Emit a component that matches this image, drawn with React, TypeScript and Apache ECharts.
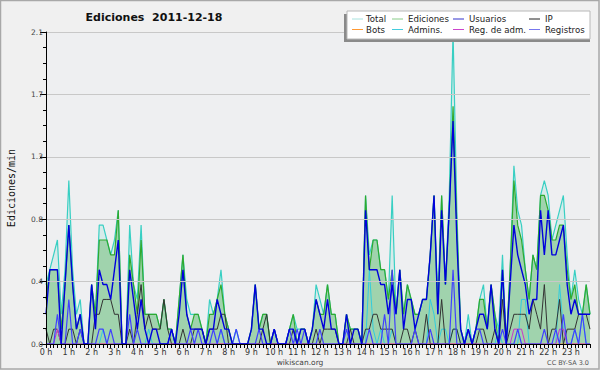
import React, { useEffect, useRef } from "react";
import * as echarts from "echarts";

// 10-minute slots, 0:00 .. 23:50
const categories: string[] = Array.from({ length: 144 }, (_, i) =>
  `${Math.floor(i / 6)}:${String((i % 6) * 10).padStart(2, "0")}`
);
const hourLabels: string[] = Array.from({ length: 24 }, (_, h) => `${h} h`);

const total = [
  0.4, 0.5, 0.6, 0.7, 0.2, 0.5, 1.1, 0.5, 0.2, 0.3,
  0, 0, 0.4, 0.2, 0.8, 0.8, 0.7, 0.6, 0.7, 0.9,
  0, 0, 0.8, 0.4, 0.3, 0.8, 0.2, 0.2, 0.2, 0.2,
  0.1, 0.3, 0.1, 0.1, 0, 0.3, 0.6, 0.3, 0.2, 0.2,
  0.2, 0.1, 0, 0.3, 0.2, 0.3, 0.5, 0.2, 0.1, 0,
  0.1, 0, 0, 0, 0.1, 0.4, 0.1, 0.2, 0.2, 0,
  0.1, 0, 0, 0, 0.1, 0.2, 0.1, 0.1, 0.1, 0,
  0.1, 0.4, 0.3, 0.2, 0.4, 0.2, 0.2, 0, 0, 0.2,
  0.1, 0.1, 0.1, 0, 1.0, 0.6, 0.7, 0.7, 0.5, 0.5,
  0.3, 1.0, 0.2, 0.5, 0.2, 0.4, 0.3, 0.2, 0.2, 0.3,
  0.3, 0.6, 1.0, 0.3, 1.0, 0.4, 1.0, 2.1, 0.9, 0.1,
  0, 0.2, 0, 0.1, 0.3, 0.4, 0.1, 0.4, 0.2, 0.1,
  0.6, 0, 0.5, 1.2, 0.9, 0.8, 0.5, 0.3, 0.6, 0.5,
  1.0, 1.1, 1.0, 0.7, 0.8, 0.9, 1.0, 0.6, 0.3, 0.5,
  0.3, 0.2, 0.4, 0.2,
];

const ediciones = [
  0.3, 0.5, 0.5, 0.5, 0.1, 0.4, 0.8, 0.4, 0.1, 0.2,
  0, 0, 0.4, 0.2, 0.7, 0.7, 0.7, 0.6, 0.6, 0.9,
  0, 0, 0.6, 0.4, 0.2, 0.7, 0.2, 0.2, 0.2, 0.2,
  0.1, 0.3, 0.1, 0.1, 0, 0.3, 0.6, 0.2, 0.1, 0.2,
  0.2, 0.1, 0, 0.2, 0.2, 0.3, 0.4, 0.2, 0.1, 0,
  0, 0, 0, 0, 0.1, 0.4, 0.1, 0.2, 0.2, 0,
  0.1, 0, 0, 0, 0.1, 0.2, 0, 0.1, 0.1, 0,
  0.1, 0.3, 0.2, 0.2, 0.4, 0.2, 0.2, 0, 0, 0.2,
  0.1, 0.1, 0.1, 0, 1.0, 0.5, 0.7, 0.7, 0.5, 0.5,
  0.3, 0.5, 0.2, 0.5, 0.2, 0.4, 0.3, 0.2, 0.2, 0.3,
  0.3, 0.6, 1.0, 0.2, 1.0, 0.4, 0.9, 1.6, 0.8, 0.1,
  0, 0.1, 0, 0.1, 0.3, 0.3, 0.1, 0.4, 0.2, 0,
  0.5, 0, 0.5, 1.1, 0.8, 0.7, 0.5, 0.3, 0.6, 0.5,
  1.0, 1.0, 0.9, 0.7, 0.7, 0.8, 0.8, 0.5, 0.3, 0.4,
  0.2, 0.2, 0.4, 0.2,
];

const usuarios = [
  0.2, 0.5, 0.5, 0.5, 0, 0.4, 0.8, 0.4, 0.1, 0.2,
  0, 0, 0.4, 0.1, 0.5, 0.4, 0.4, 0.3, 0.5, 0.7,
  0, 0, 0.5, 0.3, 0.1, 0.3, 0.1, 0, 0.1, 0.1,
  0, 0, 0, 0.1, 0, 0.2, 0.5, 0.2, 0.1, 0.1,
  0.1, 0.1, 0, 0.1, 0.1, 0.3, 0.2, 0.1, 0.1, 0,
  0, 0, 0, 0, 0.1, 0.4, 0.1, 0.1, 0, 0,
  0.1, 0, 0, 0, 0.1, 0.1, 0, 0.1, 0.1, 0,
  0.1, 0.3, 0.2, 0.1, 0.3, 0.1, 0.1, 0, 0, 0.2,
  0, 0.1, 0.1, 0, 0.9, 0.5, 0.5, 0.5, 0.4, 0.4,
  0.2, 0.4, 0.2, 0.5, 0.1, 0.3, 0.3, 0.1, 0.2, 0.3,
  0.3, 0.6, 1.0, 0.2, 0.9, 0.4, 0.9, 1.5, 0.7, 0.1,
  0, 0.1, 0, 0.1, 0.2, 0.2, 0.1, 0.4, 0.1, 0,
  0.5, 0, 0.4, 0.8, 0.6, 0.5, 0.4, 0.2, 0.3, 0.3,
  0.9, 0.6, 0.9, 0.6, 0.6, 0.7, 0.8, 0.4, 0.2, 0.3,
  0.2, 0.2, 0.2, 0.2,
];

const ip = [
  0.1, 0, 0.1, 0.1, 0, 0, 0.1, 0.1, 0, 0.1,
  0, 0, 0, 0.2, 0.2, 0.3, 0.3, 0.3, 0.2, 0.2,
  0, 0, 0.1, 0, 0.2, 0.4, 0.1, 0.2, 0.1, 0.1,
  0.1, 0.3, 0.1, 0, 0, 0, 0.1, 0, 0, 0.1,
  0.1, 0.1, 0, 0.1, 0.1, 0.1, 0.2, 0.2, 0, 0,
  0, 0, 0, 0, 0, 0, 0, 0.1, 0.2, 0,
  0, 0, 0, 0, 0, 0.1, 0, 0, 0, 0,
  0, 0.1, 0, 0.1, 0.1, 0.1, 0.1, 0, 0, 0,
  0.1, 0, 0, 0, 0.1, 0.1, 0.2, 0.2, 0.1, 0.1,
  0.1, 0.1, 0, 0, 0.1, 0.1, 0, 0.1, 0, 0,
  0.2, 0, 0, 0, 0.3, 0, 0, 0.1, 0.1, 0,
  0, 0, 0, 0, 0.1, 0.1, 0, 0, 0.1, 0,
  0.3, 0, 0.1, 0.2, 0.2, 0.2, 0.2, 0.1, 0.3, 0.2,
  0.1, 0.4, 0, 0.1, 0.1, 0.3, 0, 0.1, 0.1, 0.1,
  0.2, 0.2, 0.2, 0.1,
];

const bots = new Array(144).fill(0);

const admins = [
  0, 0, 0, 0, 0, 0, 0, 0, 0, 0,
  0, 0, 0, 0, 0, 0.1, 0, 0, 0, 0,
  0, 0, 0, 0, 0, 0, 0, 0.1, 0, 0,
  0, 0, 0, 0, 0, 0, 0, 0, 0, 0,
  0, 0, 0, 0, 0, 0, 0.1, 0, 0, 0,
  0, 0, 0, 0, 0, 0, 0, 0, 0, 0,
  0, 0, 0, 0, 0, 0, 0, 0, 0, 0,
  0, 0, 0, 0, 0, 0, 0, 0, 0, 0,
  0, 0, 0, 0, 0, 0.5, 0.1, 0, 0.1, 0,
  0, 0.1, 0, 0, 0, 0, 0, 0, 0, 0,
  0, 0.3, 0.2, 0, 0.1, 0.1, 0, 0.1, 0.1, 0,
  0, 0.1, 0, 0, 0, 0, 0, 0, 0, 0.1,
  0, 0, 0, 0, 0, 0.3, 0.3, 0, 0, 0,
  0, 0, 0, 0, 0, 0.4, 0.1, 0, 0, 0.1,
  0, 0.2, 0, 0,
];

const regAdm = [
  0, 0, 0, 0.1, 0, 0, 0, 0, 0, 0,
  0, 0, 0, 0, 0, 0, 0, 0, 0, 0,
  0, 0, 0, 0, 0, 0, 0, 0, 0, 0,
  0, 0, 0, 0, 0, 0, 0, 0, 0, 0,
  0, 0, 0, 0, 0, 0, 0, 0, 0, 0,
  0, 0, 0, 0, 0, 0, 0, 0, 0, 0,
  0, 0, 0, 0, 0, 0, 0, 0, 0, 0,
  0, 0, 0, 0, 0, 0, 0, 0, 0, 0,
  0, 0, 0, 0, 0, 0, 0, 0, 0, 0,
  0, 0, 0, 0, 0, 0, 0, 0, 0, 0,
  0, 0, 0, 0, 0, 0, 0, 0, 0, 0,
  0, 0, 0, 0, 0, 0, 0, 0, 0, 0,
  0, 0, 0, 0.1, 0.1, 0.1, 0, 0, 0, 0,
  0, 0, 0, 0, 0, 0.1, 0.1, 0, 0, 0,
  0, 0, 0, 0,
];

const registros = [
  0, 0, 0, 0.2, 0, 0, 0.3, 0, 0, 0.1,
  0, 0, 0, 0, 0.1, 0.1, 0, 0.1, 0, 0,
  0, 0, 0.2, 0, 0.1, 0, 0, 0, 0, 0,
  0, 0, 0, 0.1, 0, 0, 0, 0, 0.1, 0,
  0.1, 0, 0, 0, 0.1, 0, 0.1, 0, 0, 0,
  0.1, 0, 0, 0, 0, 0, 0.1, 0, 0, 0,
  0.1, 0, 0, 0, 0.1, 0, 0.1, 0, 0.1, 0,
  0, 0, 0.1, 0, 0, 0, 0, 0, 0, 0.1,
  0, 0, 0, 0, 0, 0.1, 0, 0, 0, 0.2,
  0, 0.5, 0, 0, 0, 0, 0, 0.1, 0, 0,
  0, 0.1, 0, 0, 0, 0, 0, 0.5, 0, 0,
  0, 0.1, 0, 0.1, 0.1, 0, 0, 0, 0, 0,
  0.1, 0, 0, 0, 0.1, 0, 0, 0, 0, 0,
  0, 0.1, 0, 0, 0.1, 0, 0.2, 0, 0, 0.1,
  0, 0.2, 0, 0,
];

const legendItems = [
  { name: "Total", color: "#a8e2de", col: 0, row: 0 },
  { name: "Ediciones", color: "#88cc88", col: 1, row: 0 },
  { name: "Usuarios", color: "#3333cc", col: 2, row: 0 },
  { name: "IP", color: "#222222", col: 3, row: 0 },
  { name: "Bots", color: "#ff9933", col: 0, row: 1 },
  { name: "Admins.", color: "#44ccdd", col: 1, row: 1 },
  { name: "Reg. de adm.", color: "#cc44cc", col: 2, row: 1 },
  { name: "Registros", color: "#7777ee", col: 3, row: 1 },
];

const FONT = "DejaVu Sans";

function lineSeries(name: string, data: number[], color: string, width: number, extra: any = {}) {
  return {
    name,
    type: "line",
    data,
    symbol: "none",
    showSymbol: false,
    smooth: false,
    lineStyle: { color, width },
    itemStyle: { color },
    ...extra,
  };
}

export default function App() {
  const ref = useRef<HTMLDivElement>(null);

  useEffect(() => {
    document.body.style.margin = "0";
    if (!ref.current) return;
    const chart = echarts.init(ref.current, undefined, { renderer: "svg" });

    const lineStartX = [352, 392, 453, 529];
    const textX = [366, 408, 469, 545];
    const rowY = [19, 29.5];

    const legendGraphics: any[] = [
      { type: "rect", shape: { x: 344, y: 14, width: 246, height: 28 }, style: { fill: "#8a8a8a" }, z: 100 },
      { type: "rect", shape: { x: 347, y: 11, width: 243, height: 28 }, style: { fill: "#ffffff", stroke: "#b8b8b8", lineWidth: 1 }, z: 101 },
    ];
    legendItems.forEach((it) => {
      legendGraphics.push({
        type: "line",
        shape: { x1: lineStartX[it.col], y1: rowY[it.row], x2: lineStartX[it.col] + 11, y2: rowY[it.row] },
        style: { stroke: it.color, lineWidth: 1 },
        z: 102,
      });
      legendGraphics.push({
        type: "text",
        x: textX[it.col],
        y: rowY[it.row],
        style: { text: it.name, fill: "#222", font: `8.6px "${FONT}"`, textAlign: "left", textVerticalAlign: "middle" },
        z: 102,
      });
    });

    const option: any = {
      animation: false,
      backgroundColor: "#f0f0f0",
      grid: { left: 46, right: 10, top: 32, bottom: 26, show: true, backgroundColor: "#eeeff1", borderWidth: 0 },
      xAxis: {
        type: "category",
        data: categories,
        boundaryGap: false,
        z: 10,
        axisLine: { lineStyle: { color: "#000", width: 1 } },
        axisTick: { show: true, interval: 0, length: 4, lineStyle: { color: "#000" } },
        axisLabel: {
          interval: 5,
          formatter: (_v: string, idx: number) => hourLabels[Math.round(idx / 6)],
          fontSize: 8,
          color: "#333",
          margin: 4,
          fontFamily: FONT,
        },
        splitLine: { show: false },
      },
      yAxis: {
        type: "value",
        min: 0,
        max: 2.1,
        interval: 0.42,
        z: 10,
        axisLine: { show: true, lineStyle: { color: "#000" } },
        axisTick: { show: true, length: 6, lineStyle: { color: "#000" } },
        minorTick: { show: true, splitNumber: 4, length: 3, lineStyle: { color: "#000" } },
        axisLabel: { formatter: (v: number) => v.toFixed(1), fontSize: 7.5, color: "#444", margin: 3, fontFamily: FONT, verticalAlign: "middle", lineHeight: 7 },
        splitLine: { lineStyle: { color: "#c8c8c8", width: 1 } },
      },
      series: [
        lineSeries("Total", total, "#38cfc3", 1.2, { areaStyle: { color: "rgba(120,220,210,0.28)" } }),
        lineSeries("Ediciones", ediciones, "#2faa2f", 1.2, { areaStyle: { color: "rgba(40,160,40,0.45)" } }),
        lineSeries("Bots", bots, "#ff9933", 1),
        lineSeries("Admins.", admins, "#33ccdd", 1),
        lineSeries("IP", ip, "#333333", 1),
        lineSeries("Reg. de adm.", regAdm, "#cc33cc", 1),
        lineSeries("Registros", registros, "#4040ff", 1.2),
        lineSeries("Usuarios", usuarios, "#0000dd", 1.4),
      ],
      graphic: [
        {
          type: "rect",
          shape: { x: 0.5, y: 0.5, width: 598.5, height: 368.5 },
          style: { fill: "none", stroke: "#a8a8a8", lineWidth: 1.5 },
          z: 50,
          silent: true,
        },
        {
          type: "text",
          x: 154,
          y: 17,
          style: { text: "Ediciones  2011-12-18", fill: "#111", font: `bold 11px "${FONT}"`, textAlign: "center", textVerticalAlign: "middle" },
        },
        {
          type: "text",
          x: 11,
          y: 188,
          rotation: Math.PI / 2,
          style: { text: "Ediciones/min", fill: "#111", font: `10px "DejaVu Sans Mono"`, textAlign: "center", textVerticalAlign: "middle" },
        },
        {
          type: "text",
          x: 300,
          y: 362,
          style: { text: "wikiscan.org", fill: "#444", font: `7.5px "${FONT}"`, textAlign: "center", textVerticalAlign: "middle" },
        },
        {
          type: "text",
          x: 589,
          y: 363,
          style: { text: "CC BY-SA 3.0", fill: "#555", font: `6.5px "${FONT}"`, textAlign: "right", textVerticalAlign: "middle" },
        },
        ...legendGraphics,
      ],
    };

    chart.setOption(option);
    return () => chart.dispose();
  }, []);

  return <div ref={ref} style={{ width: 600, height: 370 }} />;
}
